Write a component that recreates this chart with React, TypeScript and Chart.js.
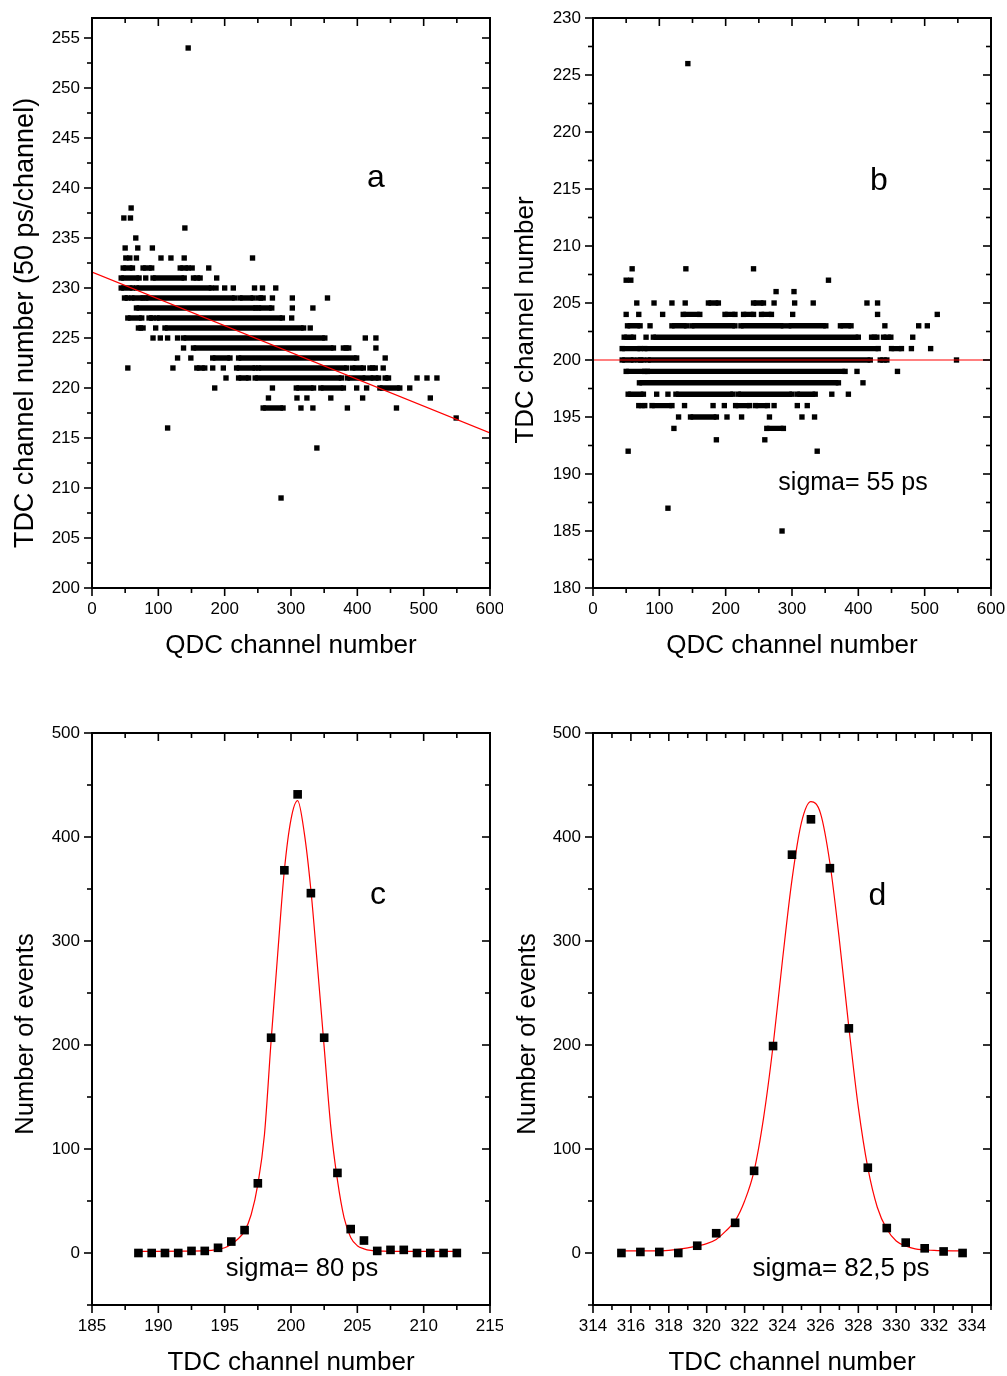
import React, { useEffect, useRef } from "react";
import { Chart, registerables } from "chart.js";

Chart.register(...registerables);

const FONT = "'Liberation Sans', Arial, sans-serif";

// ================= DATA =================

// ---- Panel a : TDC vs QDC (uncorrected) ----
const qdcTicksA = [0, 100, 200, 300, 400, 500, 600];
const tdcTicksA = [200, 205, 210, 215, 220, 225, 230, 235, 240, 245, 250, 255];
// isolated events [QDC, TDC]
const eventsA = [
  [145, 254], [59, 238], [48, 237], [58, 237], [140, 236], [66, 235],
  [50, 234], [69, 234], [91, 234],
  [51, 233], [57, 233], [67, 233], [104, 233], [119, 233], [139, 233], [242, 233],
  [151, 232], [176, 232],
  [81, 231], [188, 231],
  [187, 230], [200, 230], [213, 230], [245, 230], [257, 230], [277, 230],
  [272, 229], [302, 229], [355, 229],
  [302, 228], [333, 228],
  [301, 227],
  [96, 226], [329, 226],
  [92, 225], [103, 225], [114, 225], [129, 225], [412, 225], [428, 225],
  [138, 224], [428, 224],
  [129, 223], [149, 223], [442, 223],
  [54, 222], [122, 222], [182, 222], [198, 222], [439, 222],
  [202, 221], [490, 221], [505, 221], [520, 221],
  [185, 220], [272, 220], [399, 220], [414, 220], [479, 220],
  [266, 219], [309, 219], [324, 219], [360, 219], [408, 219], [510, 219],
  [315, 218], [333, 218], [385, 218], [459, 218],
  [549, 217], [114, 216], [339, 214], [285, 209],
];
// dense runs of overlapping events [TDC, QDC from, QDC to]
const runsA = [
  [232, 47, 61], [232, 77, 90], [232, 133, 145],
  [231, 44, 71], [231, 92, 139], [231, 153, 163],
  [230, 44, 61], [230, 67, 180],
  [229, 49, 54], [229, 60, 77], [229, 81, 215], [229, 223, 243], [229, 251, 258],
  [228, 67, 247], [228, 251, 271],
  [227, 54, 75], [227, 86, 92], [227, 98, 287],
  [226, 70, 77], [226, 110, 319],
  [225, 138, 351],
  [224, 153, 364], [224, 379, 387],
  [223, 182, 208], [223, 221, 399],
  [222, 158, 170], [222, 218, 246], [222, 251, 384], [222, 393, 409], [222, 419, 427],
  [221, 221, 236], [221, 246, 376], [221, 385, 412], [221, 420, 432], [221, 442, 447],
  [220, 308, 334], [220, 345, 379], [220, 434, 464],
  [218, 258, 288],
];
// linear fit [QDC, TDC]
const fitA = [[0, 231.6], [600, 215.5]];

// ---- Panel b : TDC vs QDC (corrected) ----
const qdcTicksB = [0, 100, 200, 300, 400, 500, 600];
const tdcTicksB = [180, 185, 190, 195, 200, 205, 210, 215, 220, 225, 230];
const eventsB = [
  [143, 226],
  [59, 208], [140, 208], [242, 208],
  [50, 207], [57, 207], [355, 207],
  [276, 206], [303, 206],
  [66, 205], [92, 205], [119, 205], [139, 205], [273, 205], [304, 205], [332, 205], [413, 205], [429, 205],
  [50, 204], [69, 204], [105, 204], [301, 204], [429, 204], [519, 204],
  [86, 203], [440, 203], [491, 203], [504, 203],
  [80, 202], [482, 202],
  [480, 201], [509, 201],
  [548, 200],
  [398, 199], [459, 199],
  [407, 198],
  [96, 197], [113, 197], [360, 197], [385, 197],
  [138, 196], [181, 196], [198, 196], [273, 196], [308, 196], [323, 196],
  [129, 195], [202, 195], [224, 195], [266, 195], [315, 195], [334, 195],
  [122, 194],
  [186, 193], [259, 193],
  [53, 192], [338, 192],
  [113, 187], [285, 185],
];
const runsB = [
  [205, 174, 189], [205, 242, 257],
  [204, 136, 161], [204, 199, 214], [204, 227, 242], [204, 254, 269],
  [203, 52, 71], [203, 119, 141], [203, 149, 214], [203, 223, 287], [203, 295, 351], [203, 373, 389],
  [202, 47, 61], [202, 91, 400], [202, 420, 428], [202, 438, 449],
  [201, 44, 71], [201, 78, 430], [201, 450, 465],
  [200, 44, 61], [200, 68, 76], [200, 83, 418], [200, 433, 443],
  [199, 50, 78], [199, 82, 380],
  [198, 70, 370],
  [197, 53, 76], [197, 125, 211], [197, 219, 300], [197, 308, 335],
  [196, 69, 78], [196, 89, 119], [196, 215, 236], [196, 245, 263],
  [195, 147, 186],
  [194, 262, 287],
];
const fitB = [[0, 200], [600, 200]];

// ---- Panel c : TDC spectrum ----
const tdcTicksC = [185, 190, 195, 200, 205, 210, 215];
const countTicksC = [0, 100, 200, 300, 400, 500];
const tdcC = [188.5, 189.5, 190.5, 191.5, 192.5, 193.5, 194.5, 195.5, 196.5, 197.5, 198.5, 199.5, 200.5,
  201.5, 202.5, 203.5, 204.5, 205.5, 206.5, 207.5, 208.5, 209.5, 210.5, 211.5, 212.5];
const countsC = [0, 0, 0, 0, 2, 2, 5, 11, 22, 67, 207, 368, 441, 346, 207, 77, 23, 12, 2, 3, 3, 0, 0, 0, 0];
const fitCx = [188.5, 192, 194, 195, 195.5, 196, 196.5, 197, 197.5, 198, 198.5, 199, 199.5, 200, 200.5,
  201, 201.5, 202, 202.5, 203, 203.5, 204, 204.5, 205, 205.5, 206, 207, 209, 212.5];
const fitCy = [1.5, 1.8, 2.5, 5, 8.5, 13.5, 21, 37, 66, 114, 204, 288, 368, 417, 435,
  404, 349, 275, 198, 121, 70, 34, 15, 7, 4, 2.5, 1.8, 1.5, 1.5];

// ---- Panel d : TDC spectrum ----
const tdcTicksD = [314, 316, 318, 320, 322, 324, 326, 328, 330, 332, 334];
const countTicksD = [0, 100, 200, 300, 400, 500];
const tdcD = [315.5, 316.5, 317.5, 318.5, 319.5, 320.5, 321.5, 322.5, 323.5, 324.5, 325.5, 326.5,
  327.5, 328.5, 329.5, 330.5, 331.5, 332.5, 333.5];
const countsD = [0, 1, 1, 0, 7, 19, 29, 79, 199, 383, 417, 370, 216, 82, 24, 10, 4.5, 1.5, 0];
const fitDx = [315.5, 317, 318, 319, 320, 320.5, 321, 321.5, 322, 322.5, 323, 323.5, 324, 324.5, 325,
  325.5, 326, 326.5, 327, 327.5, 328, 328.5, 329, 329.5, 330, 330.5, 331, 332, 333.5];
const fitDy = [2, 2, 2.5, 5, 9, 13, 21, 31, 50, 79, 130, 199, 282, 359, 414,
  434, 423, 375, 301, 217, 140, 82, 44, 23, 11.5, 6.7, 4, 2.5, 2];

// ================= PLUGINS =================

function minorValues(majors: number[], min: number, max: number) {
  const d = majors[1] - majors[0];
  const out: number[] = [];
  for (let v = majors[0] - d / 2; v <= max + 1e-9; v += d) {
    if (v >= min - 1e-9) out.push(v);
  }
  return out;
}

const frameTicksPlugin = {
  id: "frameTicks",
  afterDraw(chart: any) {
    const { ctx, chartArea: ca, scales } = chart;
    const xs = scales.x;
    const ys = scales.y;
    const xMaj = xs.ticks.map((t: any) => t.value);
    const yMaj = ys.ticks.map((t: any) => t.value);
    const xMin = minorValues(xMaj, xs.min, xs.max);
    const yMin = minorValues(yMaj, ys.min, ys.max);
    ctx.save();
    ctx.strokeStyle = "#000";
    ctx.lineCap = "butt";
    const seg = (x1: number, y1: number, x2: number, y2: number) => {
      ctx.beginPath();
      ctx.moveTo(x1, y1);
      ctx.lineTo(x2, y2);
      ctx.stroke();
    };
    ctx.lineWidth = 1.6;
    const xt = (v: number, len: number) => {
      const p = xs.getPixelForValue(v);
      seg(p, ca.bottom, p, ca.bottom + len);
      seg(p, ca.top, p, ca.top + len);
    };
    const yt = (v: number, len: number) => {
      const p = ys.getPixelForValue(v);
      seg(ca.left - len, p, ca.left, p);
      seg(ca.right - len, p, ca.right, p);
    };
    xMaj.forEach((v: number) => xt(v, 8));
    xMin.forEach((v: number) => xt(v, 5));
    yMaj.forEach((v: number) => yt(v, 8));
    yMin.forEach((v: number) => yt(v, 5));
    ctx.lineWidth = 2;
    ctx.strokeRect(ca.left, ca.top, ca.right - ca.left, ca.bottom - ca.top);
    ctx.restore();
  },
};

const titleShiftPlugin = {
  id: "titleShift",
  afterLayout(chart: any, _args: any, opts: any) {
    const s = chart.scales.y;
    const shift = (opts && opts.shift) || 0;
    s.top += shift;
    s.bottom += shift;
  },
};

const panelTextPlugin = {
  id: "panelText",
  afterDraw(chart: any, _args: any, opts: any) {
    const { ctx, scales } = chart;
    ctx.save();
    ctx.fillStyle = "#000";
    ctx.textAlign = "center";
    ctx.textBaseline = "alphabetic";
    (opts.items || []).forEach((it: any) => {
      ctx.font = `${it.size}px ${FONT}`;
      ctx.fillText(it.text, scales.x.getPixelForValue(it.x), scales.y.getPixelForValue(it.y));
    });
    ctx.restore();
  },
};

// ================= CONFIG HELPERS =================

function xAxis(min: number, max: number, ticks: number[], title: string, titlePadBottom: number, height: number) {
  return {
    type: "linear",
    position: "bottom",
    min,
    max,
    afterBuildTicks: (s: any) => {
      s.ticks = ticks.map((v) => ({ value: v }));
    },
    afterFit: (s: any) => {
      s.height = height;
      s.paddingLeft = 0;
      s.paddingRight = 0;
    },
    grid: { display: false, drawTicks: false },
    border: { display: false },
    ticks: {
      color: "#000",
      font: { family: FONT, size: 17 },
      padding: 11,
      autoSkip: false,
      maxRotation: 0,
      minRotation: 0,
      callback: (v: any) => String(v),
    },
    title: {
      display: true,
      text: title,
      color: "#000",
      font: { family: FONT, size: 26 },
      padding: { top: 0, bottom: titlePadBottom },
    },
  };
}

function yAxis(min: number, max: number, ticks: number[], title: string, titleSize: number, titlePadTop: number, width: number) {
  return {
    type: "linear",
    position: "left",
    min,
    max,
    afterBuildTicks: (s: any) => {
      s.ticks = ticks.map((v) => ({ value: v }));
    },
    afterFit: (s: any) => {
      s.width = width;
      s.paddingTop = 0;
      s.paddingBottom = 0;
    },
    grid: { display: false, drawTicks: false },
    border: { display: false },
    ticks: {
      color: "#000",
      font: { family: FONT, size: 17 },
      padding: 12,
      autoSkip: false,
      callback: (v: any) => String(v),
    },
    title: {
      display: true,
      text: title,
      color: "#000",
      font: { family: FONT, size: titleSize },
      padding: { top: titlePadTop, bottom: 0 },
    },
  };
}

function runsToData(runs: number[][]) {
  const out: any[] = [];
  runs.forEach(([y, a, b]) => {
    out.push({ x: a, y }, { x: b, y }, { x: b, y: null });
  });
  return out;
}

function baseOptions(padTop: number, padRight: number, xa: any, ya: any, shift: number, items: any[]) {
  return {
    responsive: false,
    animation: false,
    devicePixelRatio: 1,
    layout: { padding: { left: 0, top: padTop, right: padRight, bottom: 0 } },
    scales: { x: xa, y: ya },
    plugins: {
      legend: { display: false },
      tooltip: { enabled: false },
      titleShift: { shift },
      panelText: { items },
    },
    events: [],
  };
}

function scatterConfig(events: number[][], runs: number[][], fit: number[][], opts: any) {
  return {
    type: "scatter",
    data: {
      datasets: [
        {
          label: "fit",
          data: fit.map(([x, y]) => ({ x, y })),
          showLine: true,
          borderColor: "#ff0000",
          borderWidth: 1.2,
          pointRadius: 0,
        },
        {
          label: "events",
          data: events.map(([x, y]) => ({ x, y })),
          pointStyle: "rect",
          pointRadius: 3.8,
          pointBorderWidth: 0,
          backgroundColor: "#000",
          borderColor: "#000",
        },
        {
          label: "dense events",
          data: runsToData(runs),
          showLine: true,
          spanGaps: false,
          borderWidth: 5.4,
          borderColor: "#000",
          borderCapStyle: "butt",
          pointStyle: "rect",
          pointRadius: 3.8,
          pointBorderWidth: 0,
          backgroundColor: "#000",
        },
      ],
    },
    options: opts,
    plugins: [titleShiftPlugin, frameTicksPlugin, panelTextPlugin],
  };
}

function histConfig(xs: number[], ys: number[], fx: number[], fy: number[], opts: any) {
  return {
    type: "scatter",
    data: {
      datasets: [
        {
          label: "counts",
          data: xs.map((x, i) => ({ x, y: ys[i] })),
          pointStyle: "rect",
          pointRadius: 6.1,
          pointBorderWidth: 0,
          backgroundColor: "#000",
          borderColor: "#000",
        },
        {
          label: "gauss fit",
          data: fx.map((x, i) => ({ x, y: fy[i] })),
          showLine: true,
          cubicInterpolationMode: "monotone",
          borderColor: "#ff0000",
          borderWidth: 1.2,
          pointRadius: 0,
        },
      ],
    },
    options: opts,
    plugins: [titleShiftPlugin, frameTicksPlugin, panelTextPlugin],
  };
}

const PANELS = [
  { left: 0, top: 0, w: 503, h: 688 },
  { left: 503, top: 0, w: 504, h: 688 },
  { left: 0, top: 688, w: 503, h: 688 },
  { left: 503, top: 688, w: 504, h: 688 },
];

function buildConfigs() {
  const a = scatterConfig(
    eventsA,
    runsA,
    fitA,
    baseOptions(
      18,
      13,
      xAxis(0, 600, qdcTicksA, "QDC channel number", 27, 100),
      yAxis(200, 257, tdcTicksA, "TDC channel number (50 ps/channel)", 27, 9, 92),
      20,
      [{ text: "a", x: 428, y: 240.1, size: 32 }]
    )
  );
  const b = scatterConfig(
    eventsB,
    runsB,
    fitB,
    baseOptions(
      18,
      16,
      xAxis(0, 600, qdcTicksB, "QDC channel number", 27, 100),
      yAxis(180, 230, tdcTicksB, "TDC channel number", 26, 7, 90),
      17,
      [
        { text: "b", x: 431, y: 214.9, size: 32 },
        { text: "sigma= 55 ps", x: 392, y: 188.6, size: 25 },
      ]
    )
  );
  const c = histConfig(
    tdcC,
    countsC,
    fitCx,
    fitCy,
    baseOptions(
      45,
      13,
      xAxis(185, 215, tdcTicksC, "TDC channel number", -2, 71),
      yAxis(-50, 500, countTicksC, "Number of events", 25.5, 11, 92),
      15,
      [
        { text: "c", x: 206.56, y: 335.3, size: 32 },
        { text: "sigma= 80 ps", x: 200.83, y: -22.2, size: 25.5 },
      ]
    )
  );
  const d = histConfig(
    tdcD,
    countsD,
    fitDx,
    fitDy,
    baseOptions(
      45,
      16,
      xAxis(314, 335, tdcTicksD, "TDC channel number", -2, 71),
      yAxis(-50, 500, countTicksD, "Number of events", 25.5, 10, 90),
      15,
      [
        { text: "d", x: 329.0, y: 334.3, size: 32 },
        { text: "sigma= 82,5 ps", x: 327.09, y: -22.2, size: 26 },
      ]
    )
  );
  return [a, b, c, d];
}

export default function App() {
  const r0 = useRef<HTMLCanvasElement>(null);
  const r1 = useRef<HTMLCanvasElement>(null);
  const r2 = useRef<HTMLCanvasElement>(null);
  const r3 = useRef<HTMLCanvasElement>(null);
  const refs = [r0, r1, r2, r3];

  useEffect(() => {
    const configs = buildConfigs();
    const charts = configs.map((cfg, i) => new Chart(refs[i].current as HTMLCanvasElement, cfg as any));
    return () => charts.forEach((c) => c.destroy());
  }, []);

  return (
    <div style={{ position: "absolute", left: 0, top: 0, width: 1007, height: 1376, background: "#fff" }}>
      {PANELS.map((p, i) => (
        <canvas
          key={i}
          ref={refs[i]}
          width={p.w}
          height={p.h}
          style={{ position: "absolute", left: p.left, top: p.top, width: p.w, height: p.h, display: "block" }}
        />
      ))}
    </div>
  );
}
